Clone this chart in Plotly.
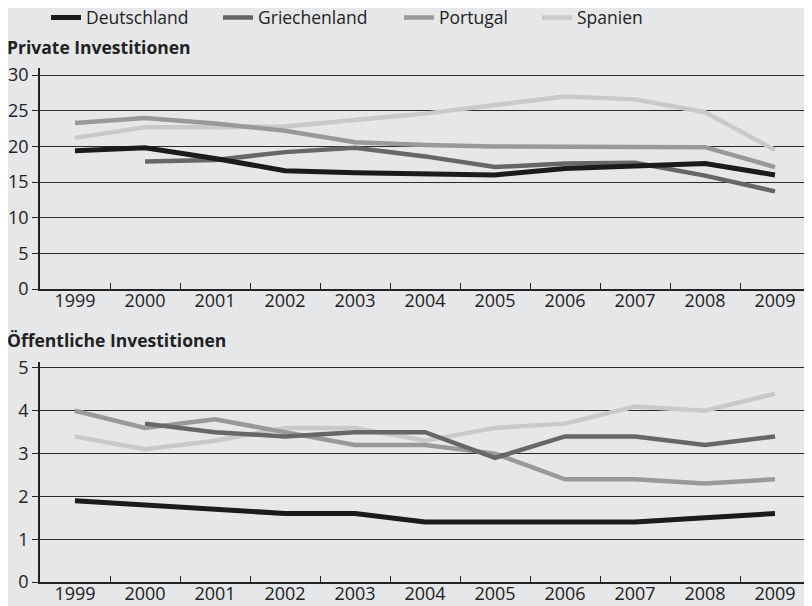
import plotly.graph_objects as go

years = ["1999", "2000", "2001", "2002", "2003", "2004", "2005", "2006", "2007", "2008", "2009"]
countries = ["Deutschland", "Griechenland", "Portugal", "Spanien"]

private_de = [19.4, 19.8, 18.3, 16.6, 16.3, 16.2, 16.0, 16.9, 17.3, 17.6, 16.0]
private_gr = [None, 17.9, 18.1, 19.2, 19.8, 18.6, 17.1, 17.6, 17.7, 15.9, 13.7]
private_pt = [23.3, 24.0, 23.2, 22.2, 20.6, 20.2, 20.0, 20.0, 19.9, 19.9, 17.1]
private_es = [21.2, 22.7, 22.7, 22.8, 23.7, 24.6, 25.8, 27.0, 26.6, 24.8, 19.5]

public_de = [1.9, 1.8, 1.7, 1.6, 1.6, 1.4, 1.4, 1.4, 1.4, 1.5, 1.6]
public_gr = [None, 3.7, 3.5, 3.4, 3.5, 3.5, 2.9, 3.4, 3.4, 3.2, 3.4]
public_pt = [4.0, 3.6, 3.8, 3.5, 3.2, 3.2, 3.0, 2.4, 2.4, 2.3, 2.4]
public_es = [3.4, 3.1, 3.3, 3.6, 3.6, 3.3, 3.6, 3.7, 4.1, 4.0, 4.4]

title_top = "Private Investitionen"
title_bottom = "Öffentliche Investitionen"

colors = ["#1b1b1b", "#676767", "#999999", "#c9c9c9"]
widths = [5, 4.5, 4.5, 4.5]
legend_names = ["legend", "legend2", "legend3", "legend4"]

# page body has an 8px margin: figure coordinates = screen coordinates - 8
OFF = 8
FW, FH = 812 - OFF, 606 - OFF
ML, MR = 40 - OFF, 2
W_PLOT = FW - ML - MR
legend_px = [46, 218, 399, 537]  # screen left pixel of each legend box


def ypaper(screen_y):
    return (FH - (screen_y - OFF)) / FH


def xpaper(screen_x):
    return (screen_x - 40) / W_PLOT


fig = go.Figure()
priv = [private_de, private_gr, private_pt, private_es]
pub = [public_de, public_gr, public_pt, public_es]
order = [3, 2, 1, 0]
for i in order:
    fig.add_trace(go.Scatter(x=years, y=priv[i], mode="lines", name=countries[i],
                             line=dict(color=colors[i], width=widths[i]),
                             xaxis="x", yaxis="y", showlegend=True, legend=legend_names[i]))
for i in order:
    fig.add_trace(go.Scatter(x=years, y=pub[i], mode="lines", name=countries[i],
                             line=dict(color=colors[i], width=widths[i]),
                             xaxis="x2", yaxis="y2", showlegend=False))

font = "Open Sans, Noto Sans, sans-serif"
axis_common = dict(
    type="category", tickson="boundaries", ticks="inside", ticklen=6, tickwidth=1.2,
    tickcolor="#222", showline=True, linecolor="#222", linewidth=1.5, showgrid=False,
    range=[-0.5, 10.5], tickfont=dict(size=18, color="#222", family=font), automargin=False,
    fixedrange=True, ticklabelstandoff=-5,
)
yaxis_common = dict(
    ticks="outside", ticklen=6, tickcolor="#222", showline=True, linecolor="#222", linewidth=1.5,
    showgrid=True, gridcolor="#2a2a2a", gridwidth=1, zeroline=False,
    tickfont=dict(size=18, color="#222", family=font), automargin=False, fixedrange=True,
)

legends = {}
for i, ln in enumerate(legend_names):
    legends[ln] = dict(orientation="h", x=xpaper(legend_px[i]), xanchor="left",
                       y=ypaper(17.5), yanchor="middle",
                       font=dict(size=17.5, family=font, color="#222"),
                       bgcolor="rgba(0,0,0,0)")

fig.update_layout(
    width=FW, height=FH,
    paper_bgcolor="#e6e7e9", plot_bgcolor="#e6e7e9",
    margin=dict(l=ML, r=MR, t=0, b=0, autoexpand=False),
    font=dict(family=font, color="#222"),
    xaxis=dict(axis_common, domain=[0, 1], anchor="y"),
    yaxis=dict(yaxis_common, domain=[ypaper(289), ypaper(68)], range=[0, 31],
               tickvals=[0, 5, 10, 15, 20, 25, 30], anchor="x"),
    xaxis2=dict(axis_common, domain=[0, 1], anchor="y2"),
    yaxis2=dict(yaxis_common, domain=[ypaper(582), ypaper(362)], range=[0, 5.14],
                tickvals=[0, 1, 2, 3, 4, 5], anchor="x2"),
    annotations=[
        dict(text="<b>" + title_top + "</b>", xref="paper", yref="paper", x=xpaper(5),
             y=ypaper(47), xanchor="left", yanchor="middle", showarrow=False,
             font=dict(size=17.5, family=font, color="#222")),
        dict(text="<b>" + title_bottom + "</b>", xref="paper", yref="paper", x=xpaper(5),
             y=ypaper(340), xanchor="left", yanchor="middle", showarrow=False,
             font=dict(size=17.5, family=font, color="#222")),
    ],
    **legends,
)

fig.write_html("out.html")
